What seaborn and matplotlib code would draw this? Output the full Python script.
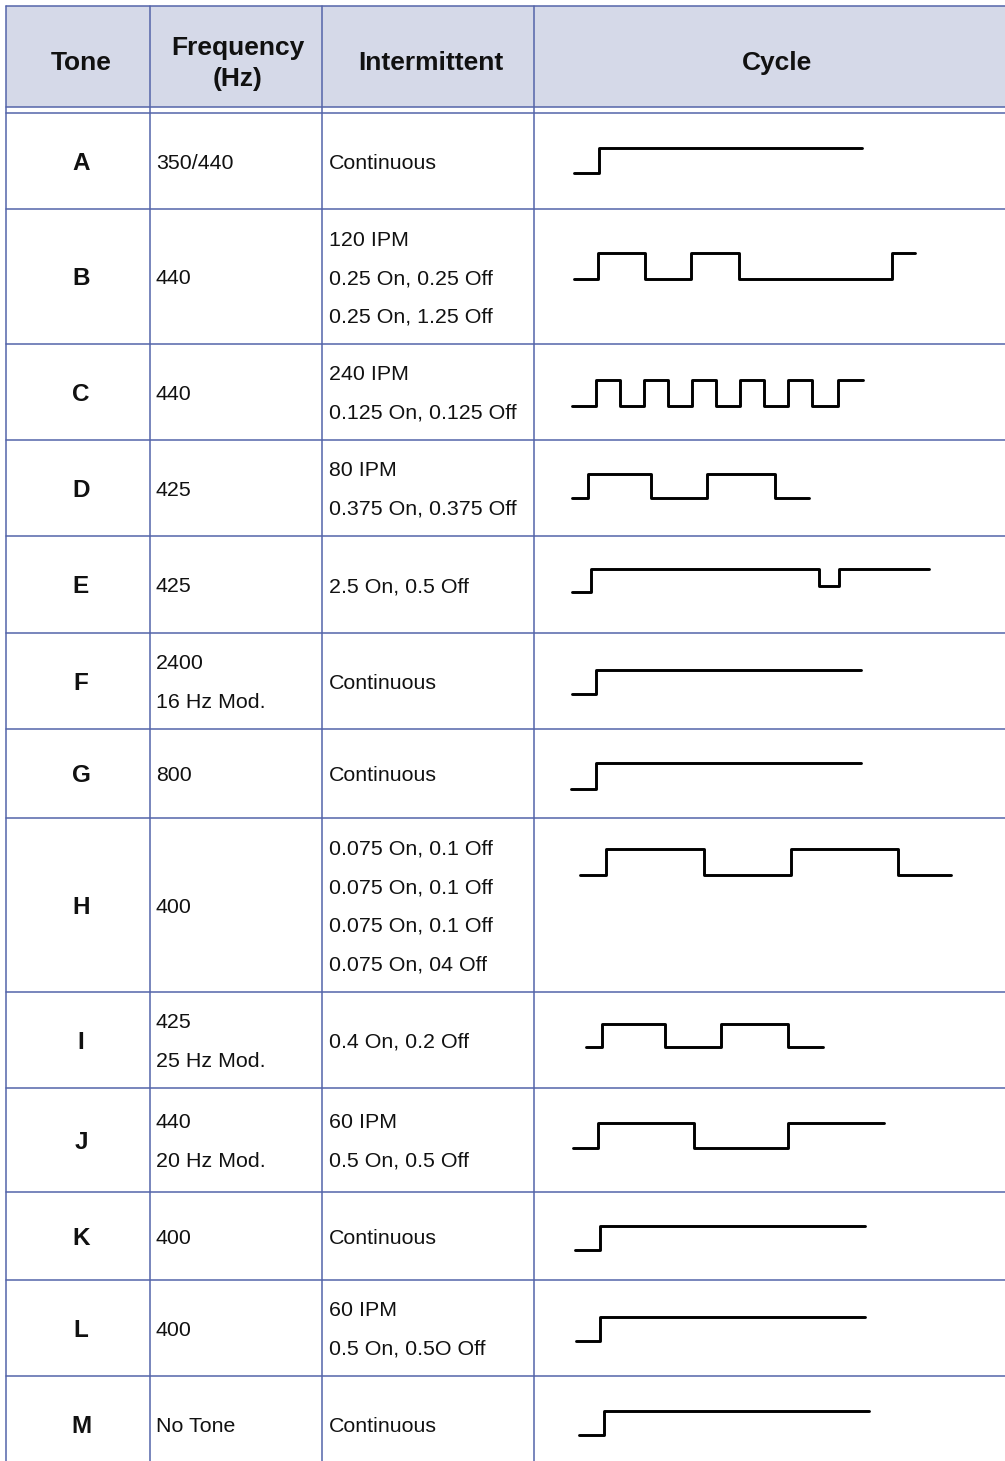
import matplotlib
matplotlib.use("Agg")
import matplotlib.pyplot as plt
import numpy as np
import pandas as pd
import seaborn as sns
from matplotlib.patches import Rectangle

sns.set_style("white")
plt.rcParams['font.family'] = ['Liberation Sans', 'DejaVu Sans']

# table content
headers = ["Tone", "Frequency\n(Hz)", "Intermittent", "Cycle"]
tones = ["A", "B", "C", "D", "E", "F", "G", "H", "I", "J", "K", "L", "M"]
frequencies = ["350/440", "440", "440", "425", "425", "2400\n16 Hz Mod.", "800", "400",
               "425\n25 Hz Mod.", "440\n20 Hz Mod.", "400", "400", "No Tone"]
intermittent = [
    "Continuous",
    "120 IPM\n0.25 On, 0.25 Off\n0.25 On, 1.25 Off",
    "240 IPM\n0.125 On, 0.125 Off",
    "80 IPM\n0.375 On, 0.375 Off",
    "2.5 On, 0.5 Off",
    "Continuous",
    "Continuous",
    "0.075 On, 0.1 Off\n0.075 On, 0.1 Off\n0.075 On, 0.1 Off\n0.075 On, 04 Off",
    "0.4 On, 0.2 Off",
    "60 IPM\n0.5 On, 0.5 Off",
    "Continuous",
    "60 IPM\n0.5 On, 0.5O Off",
    "Continuous",
]

# cycle drawings: segment lengths and on/off level of each segment
wave_durations = [
    [25, 263],
    [24, 47, 46, 48, 153, 23],
    [24, 24, 24, 24, 24, 24, 24, 24, 24, 24, 26, 25],
    [16, 63, 56, 68, 34],
    [19, 228, 20, 90],
    [24, 265],
    [25, 265],
    [26, 98, 87, 107, 53],
    [16, 63, 56, 67, 35],
    [25, 96, 94, 96],
    [25, 265],
    [24, 265],
    [25, 265],
]
wave_levels = [
    [0, 1],
    [0, 1, 0, 1, 0, 1],
    [0, 1, 0, 1, 0, 1, 0, 1, 0, 1, 0, 1],
    [0, 1, 0, 1, 0],
    [0, 1, 0.26, 1],
    [0, 1],
    [0, 1],
    [0, 1, 0, 1, 0],
    [0, 1, 0, 1, 0],
    [0, 1, 0, 1],
    [0, 1],
    [0, 1],
    [0, 1],
]

# layout (pixels)
W, H = 1005, 1461
col_x = [6, 150, 322, 534]
row_y = [113, 209, 344, 440, 536, 633, 729, 818, 992, 1088, 1192, 1280, 1376, 1472]
wave_x0 = [574, 574, 572, 572, 572, 572, 571, 580, 586, 573, 575, 576, 579]
wave_low = [173, 279, 406, 498, 592, 694, 789, 875, 1047, 1148, 1250, 1341, 1435]
wave_high = [148, 253, 380, 474, 569, 670, 763, 849, 1024, 1123, 1226, 1317, 1411]
line_gap = 38.5
line_col = "#5464a9"
fs_body = 15.4
fs_head = 19
fs_tone = 17.5

fig = plt.figure(figsize=(W / 100, H / 100), dpi=100)
ax = fig.add_axes([0, 0, 1, 1])
ax.set_xlim(0, W)
ax.set_ylim(H, 0)
ax.axis("off")

# header band and grid lines
ax.add_patch(Rectangle((col_x[0], 6), W - col_x[0], 101, facecolor="#d5d9e8", edgecolor="none", zorder=0))
for y in [6, 107] + row_y[:-1]:
    ax.plot([col_x[0], W], [y, y], color=line_col, lw=1.1, zorder=1)
for x in col_x:
    ax.plot([x, x], [6, H], color=line_col, lw=1.1, zorder=1)


def cell_text(x, yc, text, gap, size, bold=False, ha="left"):
    # place lines on their baseline so capitals are centred on yc
    lines = text.split("\n")
    n = len(lines)
    cap = 0.716 * size * 100 / 72
    for i, s in enumerate(lines):
        ax.text(x, yc + (i - (n - 1) / 2) * gap + cap / 2, s, ha=ha, va="baseline",
                fontsize=size, fontweight="bold" if bold else "normal", color="#111111")


head_cx = [81, 238, 431, 777]
for cx, h in zip(head_cx, headers):
    cell_text(cx, 61, h, 31, fs_head, bold=True, ha="center")

for i, tone in enumerate(tones):
    yc = (row_y[i] + row_y[i + 1]) / 2 if i < len(tones) - 1 else 1424
    cell_text(81, yc, tone, 0, fs_tone, bold=True, ha="center")
    cell_text(156, yc, frequencies[i], line_gap, fs_body)
    cell_text(329, yc, intermittent[i], line_gap, fs_body)

    # step waveform for the cycle
    edges = wave_x0[i] + np.concatenate([[0], np.cumsum(wave_durations[i])])
    lev = np.array(wave_levels[i] + [wave_levels[i][-1]], dtype=float)
    yy = wave_low[i] - lev * (wave_low[i] - wave_high[i])
    df = pd.DataFrame({"t": edges, "v": yy})
    sns.lineplot(data=df, x="t", y="v", ax=ax, drawstyle="steps-post", estimator=None,
                 sort=False, color="black", lw=2.1)

ax.set_xlim(0, W)
ax.set_ylim(H, 0)
ax.axis("off")
fig.savefig("out.png", dpi=100, facecolor="white")
